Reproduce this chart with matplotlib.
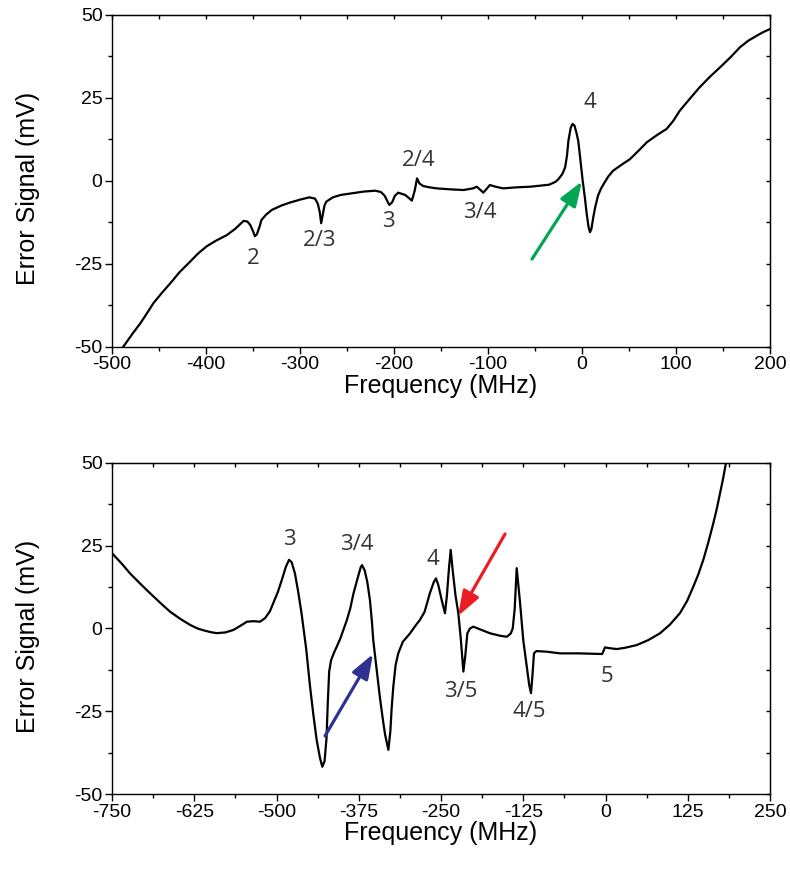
import matplotlib
matplotlib.use("Agg")
import matplotlib.pyplot as plt
from matplotlib.ticker import MultipleLocator

# top panel: error signal (mV) vs frequency (MHz)
top_freq = [-488, -478, -470, -463, -456, -447, -438, -428, -417, -408, -399, -389, -378,
            -369, -360, -356, -353, -350, -348, -346, -343, -341, -336, -330, -320, -311,
            -300, -290, -284, -281, -279, -277.5, -276, -274, -272, -265, -257, -245,
            -233, -220, -214, -210, -207, -205, -202, -199, -195.5, -188, -183, -181,
            -178, -175.5, -173, -169, -162, -155, -140, -126, -116, -112, -108, -105,
            -101, -98, -92, -84, -70, -55, -45, -35, -28, -25, -21, -18, -16, -14.5,
            -12, -10, -8, -6, -4, -2, 0.7, 3, 5, 7, 8.5, 10, 12, 14, 17, 20, 23, 28, 33,
            42, 51, 60, 69, 80, 90, 97, 104, 115, 125, 136, 147, 158, 168, 177, 186,
            193, 200]
top_signal = [-50, -46, -43, -40, -36.9, -33.8, -30.9, -27.5, -24.4, -21.8, -19.7, -18,
              -16.4, -14.5, -12.1, -12.3, -13.3, -15.2, -16.7, -16.2, -13.8, -11.8, -10.2,
              -8.8, -7.5, -6.6, -5.7, -5.0, -5.4, -7, -9.5, -12.8, -10.5, -7.5, -6.3,
              -5.0, -4.3, -3.8, -3.3, -3.0, -3.4, -4.5, -6.2, -7.3, -6.5, -4.5, -3.6,
              -4.3, -5.5, -6.0, -3, 0.7, -0.8, -1.6, -2.0, -2.3, -2.6, -2.8, -2.3, -1.8,
              -2.8, -3.6, -2.3, -1.3, -1.8, -2.3, -2.0, -1.8, -1.5, -1.2, -0.3, 0.5,
              2.0, 4.0, 7.5, 12, 16, 17.1, 16.6, 14.5, 12.0, 7, 0.0, -5, -10, -14, -15.5,
              -14.5, -11, -8, -4.5, -2.5, -1, 1.3, 3.0, 4.8, 6.5, 9, 11.6, 13.8, 15.6,
              18, 21.1, 24.8, 28.1, 31.3, 34.2, 37.2, 40.2, 42.2, 43.7, 44.8, 45.7]

top_labels = ['2', '2/3', '3', '2/4', '3/4', '4']
top_label_x = [-350, -278.7, -206.4, -173.4, -108.5, 8.5]
top_label_y = [-23.3, -17.9, -12.4, 6.2, -9.5, 23.7]

# bottom panel
bot_freq = [-750, -735, -722.6, -707, -692, -677, -662, -647, -631.5, -620, -610, -600,
            -591, -578, -565.7, -555, -545, -535, -525, -517.5, -510, -505, -498, -492,
            -486, -481, -477, -472, -467, -462, -455, -449, -444, -439, -434, -430.4,
            -427, -424, -422, -420, -417, -412, -408.5, -403, -398.5, -393, -388, -383,
            -377, -372, -370, -366, -362, -358, -355, -353, -348, -343, -338, -335, -330,
            -327, -325, -322.5, -319, -315, -308, -297, -289, -282, -275, -267, -261,
            -257.6, -254, -249, -244, -241, -238, -235.3, -232, -228, -223.7, -220, -216,
            -213, -210, -206, -201, -190, -175.5, -160, -150, -144, -141, -138, -135,
            -130, -125, -120, -116, -113.2, -111, -108.7, -105, -89.4, -69, -40, -5,
            -0.8, 5, 17, 30, 47.4, 65, 82.8, 98, 113, 124, 133.4, 141, 148.6, 156, 163.8,
            169, 174, 178.5, 183, 185]
bot_signal = [22.7, 19.5, 16.6, 13.5, 10.6, 7.8, 5.1, 3, 1.1, 0, -0.6, -1.1, -1.4, -1.2,
              -0.45, 0.8, 2.05, 2.2, 2.05, 3.1, 5.2, 7.6, 11, 14.6, 18.5, 20.7, 20, 16.6,
              11, 4.6, -6, -17.6, -26, -33.6, -39, -41.7, -40, -33, -22, -13, -9.5, -7,
              -5.5, -3, -0.5, 2.6, 6, 10.6, 15, 18.5, 19.1, 17.5, 14, 8.5, 2, -3.5, -12,
              -20.6, -28, -32, -36.6, -31, -24, -17.5, -11, -7.5, -4, -1.45, 0.8, 2.6, 5,
              10.6, 14, 15.1, 13, 8.6, 4.6, 10, 18, 23.7, 17, 10, 4.6, -3, -13, -8, -1.45,
              0, 0.55, -0.3, -1.45, -2.2, -2.5, -1.5, 0.05, 6, 18.2, 8, -3.5, -11, -17,
              -19.5, -14, -7.5, -6.8, -7.0, -7.5, -7.5, -7.7, -5.7, -5.9, -6.2, -5.8,
              -5.0, -3.5, -1.45, 1.2, 4.6, 8.3, 12.6, 16.3, 20.7, 25.8, 31.7, 36, 40.8,
              45, 49.8, 52]

bot_labels = ['3', '3/4', '4', '3/5', '4/5', '5']
bot_label_x = [-481, -377.7, -262, -219.6, -116.3, 2.3]
bot_label_y = [26.7, 25.2, 20.7, -18.9, -24.9, -14.6]

# arrows (tail, head) in data units
green_arrow = [(-53.2, -23.6), (0.0, -0.2)]
blue_arrow = [(-426.3, -32.4), (-353.3, -7.7)]
red_arrow = [(-152.7, 28.5), (-224.0, 3.8)]

plt.rcParams['font.family'] = ['Liberation Sans', 'DejaVu Sans']
plt.rcParams['axes.unicode_minus'] = False

fig = plt.figure(figsize=(7.9, 8.72), dpi=100)
ax1 = fig.add_axes([0.1418, 0.6024, 0.8329, 0.3807])
ax2 = fig.add_axes([0.1418, 0.0891, 0.8329, 0.3803])


def style_axes(ax, xlim, xmajor):
    ax.set_xlim(*xlim)
    ax.set_ylim(-50, 50)
    ax.xaxis.set_major_locator(MultipleLocator(xmajor))
    ax.xaxis.set_minor_locator(MultipleLocator(xmajor / 2))
    ax.yaxis.set_major_locator(MultipleLocator(25))
    ax.yaxis.set_minor_locator(MultipleLocator(12.5))
    ax.tick_params(which='major', direction='out', length=5.3, width=1, labelsize=14, pad=1.5)
    ax.tick_params(which='minor', direction='out', length=3, width=1)
    for s in ax.spines.values():
        s.set_linewidth(1.0)
    # small inward ticks on top and right
    sx = ax.secondary_xaxis('top')
    sx.xaxis.set_major_locator(MultipleLocator(xmajor))
    sx.xaxis.set_minor_locator(MultipleLocator(xmajor / 2))
    sx.tick_params(which='both', direction='in', length=3, width=1, labeltop=False)
    sy = ax.secondary_yaxis('right')
    sy.yaxis.set_major_locator(MultipleLocator(25))
    sy.yaxis.set_minor_locator(MultipleLocator(12.5))
    sy.tick_params(which='both', direction='in', length=3, width=1, labelright=False)
    ax.set_xlabel('Frequency (MHz)', fontsize=18)
    ax.set_ylabel('Error Signal (mV)', fontsize=18)
    ax.xaxis.set_label_coords(0.5, -0.082)
    ax.yaxis.set_label_coords(-0.11, 0.477)


def add_arrow(ax, arrow, color):
    ax.annotate('', xy=arrow[1], xytext=arrow[0],
                arrowprops=dict(arrowstyle='-|>,head_length=0.75,head_width=0.27',
                                color=color, lw=2.3, mutation_scale=20,
                                shrinkA=0, shrinkB=0))


ax1.plot(top_freq, top_signal, color='black', lw=1.6)
for t, x, y in zip(top_labels, top_label_x, top_label_y):
    ax1.text(x, y, t, ha='center', va='center', fontsize=16, color='#333333',
             family=['Open Sans', 'DejaVu Sans'])
add_arrow(ax1, green_arrow, '#00A651')
style_axes(ax1, (-500, 200), 100)

ax2.plot(bot_freq, bot_signal, color='black', lw=1.6)
for t, x, y in zip(bot_labels, bot_label_x, bot_label_y):
    ax2.text(x, y, t, ha='center', va='center', fontsize=16, color='#333333',
             family=['Open Sans', 'DejaVu Sans'])
add_arrow(ax2, blue_arrow, '#2E3192')
add_arrow(ax2, red_arrow, '#ED1C24')
style_axes(ax2, (-750, 250), 125)

fig.savefig('out.png', dpi=100)
